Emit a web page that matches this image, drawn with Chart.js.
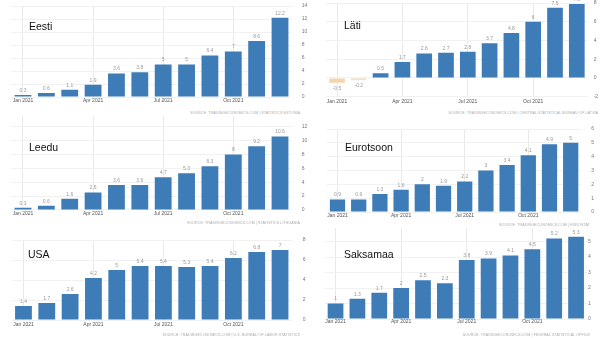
<!DOCTYPE html>
<html>
<head>
<meta charset="utf-8">
<script src="https://cdn.jsdelivr.net/npm/chart.js@4/dist/chart.umd.min.js"></script>
<style>
  body { margin: 0; background: #fff; width: 600px; height: 338px; overflow: hidden; position: relative; font-family: "Liberation Sans", Arial, sans-serif; }
  .panel { position: absolute; overflow: hidden; }
  .panel canvas { position: absolute; }
  .title { position: absolute; font-size: 10.5px; color: #111; line-height: 10px; white-space: nowrap; }
  .source { position: absolute; font-size: 3.6px; color: #aaa; white-space: nowrap; letter-spacing: 0.1px; }
</style>
</head>
<body>
<script>
// kuud ja inflatsioon 2021
const months = ['Jan 2021', 'Feb 2021', 'Mar 2021', 'Apr 2021', 'May 2021', 'Jun 2021',
                'Jul 2021', 'Aug 2021', 'Sep 2021', 'Oct 2021', 'Nov 2021', 'Dec 2021'];
const eestiValues = [0.3, 0.6, 1.1, 1.9, 3.6, 3.8, 5, 5, 6.4, 7, 8.6, 12.2];
const latiValues = [-0.5, -0.2, 0.5, 1.7, 2.6, 2.7, 2.8, 3.7, 4.8, 6, 7.5, 7.9];
const leeduValues = [0.3, 0.6, 1.6, 2.5, 3.6, 3.6, 4.7, 5.3, 6.3, 8, 9.2, 10.6];
const euroValues = [0.9, 0.9, 1.3, 1.6, 2, 1.9, 2.2, 3, 3.4, 4.1, 4.9, 5];
const usaValues = [1.4, 1.7, 2.6, 4.2, 5, 5.4, 5.4, 5.3, 5.4, 6.2, 6.8, 7];
const saksaValues = [1, 1.3, 1.7, 2, 2.5, 2.3, 3.8, 3.9, 4.1, 4.5, 5.2, 5.3];

const BLUE = '#3e7cb7';
const NEG = '#f3d6ad';

// numbrid tulpade kohal
const valueLabels = {
    id: 'valueLabels',
    afterDatasetsDraw(chart) {
        const ctx = chart.ctx;
        const meta = chart.getDatasetMeta(0);
        const data = chart.data.datasets[0].data;
        ctx.save();
        ctx.font = '5px "Liberation Sans", Arial, sans-serif';
        ctx.fillStyle = '#999';
        ctx.textAlign = 'center';
        meta.data.forEach(function (bar, i) {
            const v = data[i];
            if (v >= 0) {
                ctx.textBaseline = 'bottom';
                ctx.fillText(String(v), bar.x, bar.y - 2);
            } else {
                ctx.textBaseline = 'top';
                ctx.fillText(String(v), bar.x, bar.y + 3);
            }
        });
        ctx.restore();
    }
};

function makePanel(p) {
    const div = document.createElement('div');
    div.className = 'panel';
    div.style.left = p.box[0] + 'px';
    div.style.top = p.box[1] + 'px';
    div.style.width = p.box[2] + 'px';
    div.style.height = p.box[3] + 'px';
    document.body.appendChild(div);

    const plotTop = p.zeroY - p.max * p.ppu;
    const plotBottom = p.zeroY - p.min * p.ppu;
    const xh = 12;
    const canvasTop = plotTop - 6;
    const canvasH = Math.round(plotBottom + xh + 2 - canvasTop);
    const canvasW = p.box[2];
    const yw = p.box[0] + p.box[2] - p.plotX[1];

    const canvas = document.createElement('canvas');
    canvas.width = canvasW;
    canvas.height = canvasH;
    canvas.style.left = '0px';
    canvas.style.top = (canvasTop - p.box[1]) + 'px';
    canvas.style.width = canvasW + 'px';
    canvas.style.height = canvasH + 'px';
    div.appendChild(canvas);

    new Chart(canvas.getContext('2d'), {
        type: 'bar',
        data: {
            labels: months,
            datasets: [{
                data: p.values,
                backgroundColor: p.values.map(v => v < 0 ? NEG : BLUE),
                barPercentage: 0.72,
                categoryPercentage: 1
            }]
        },
        options: {
            responsive: false,
            animation: false,
            devicePixelRatio: 1,
            layout: {
                padding: {
                    left: p.plotX[0] - p.box[0],
                    right: 0,
                    top: plotTop - canvasTop,
                    bottom: canvasTop + canvasH - plotBottom - xh
                }
            },
            plugins: { legend: { display: false }, tooltip: { enabled: false } },
            scales: {
                x: {
                    grid: {
                        offset: false,
                        drawTicks: false,
                        color: ctx => ctx.index % 3 === 0 ? '#e9e9e9' : 'rgba(0,0,0,0)'
                    },
                    border: { display: false },
                    ticks: {
                        autoSkip: false,
                        maxRotation: 0,
                        padding: p.xPad,
                        color: '#555',
                        font: { size: 5, family: '"Liberation Sans", Arial, sans-serif' },
                        callback: (val, i) => i % 3 === 0 ? months[i] : ''
                    },
                    afterFit: s => { s.height = xh; }
                },
                y: {
                    position: 'right',
                    min: p.min,
                    max: p.max,
                    grid: { drawTicks: false, color: '#f1f1f1' },
                    border: { display: false },
                    ticks: {
                        stepSize: p.step,
                        padding: p.yPad,
                        color: '#777',
                        font: { size: 5, family: '"Liberation Sans", Arial, sans-serif' }
                    },
                    afterFit: s => { s.width = yw; }
                }
            }
        },
        plugins: [valueLabels]
    });

    const t = document.createElement('div');
    t.className = 'title';
    t.textContent = p.title;
    t.style.left = (p.titlePos[0] - p.box[0]) + 'px';
    t.style.top = (p.titlePos[1] - p.box[1] - 5) + 'px';
    div.appendChild(t);

    const s = document.createElement('div');
    s.className = 'source';
    s.textContent = p.source;
    s.style.right = (p.box[0] + p.box[2] - p.sourcePos[0]) + 'px';
    s.style.top = (p.sourcePos[1] - p.box[1] - 2) + 'px';
    div.appendChild(s);
}

makePanel({
    title: 'Eesti', values: eestiValues, box: [0, 0, 312, 116],
    plotX: [11.3, 291.7], zeroY: 97, ppu: 7, min: 0, max: 14, step: 2,
    xPad: 1, yPad: 10, titlePos: [29, 26], sourcePos: [300, 113],
    source: 'SOURCE: TRADINGECONOMICS.COM | STATISTICS ESTONIA'
});
makePanel({
    title: 'Läti', values: latiValues, box: [312, 0, 288, 116],
    plotX: [326.1, 587.7], zeroY: 77, ppu: 9.67, min: -2, max: 8, step: 2,
    xPad: 2, yPad: 6, titlePos: [344, 25], sourcePos: [598, 113],
    source: 'SOURCE: TRADINGECONOMICS.COM | CENTRAL STATISTICAL BUREAU OF LATVIA'
});
makePanel({
    title: 'Leedu', values: leeduValues, box: [0, 116, 312, 112],
    plotX: [11.3, 291.7], zeroY: 210, ppu: 7.42, min: 0, max: 14, step: 2,
    xPad: 1, yPad: 10, titlePos: [29, 147], sourcePos: [300, 223],
    source: 'SOURCE: TRADINGECONOMICS.COM | STATISTICS LITHUANIA'
});
makePanel({
    title: 'Eurotsoon', values: euroValues, box: [312, 116, 288, 112],
    plotX: [326.9, 581.3], zeroY: 211.5, ppu: 15, min: 0, max: 6, step: 1,
    xPad: 1, yPad: 10, titlePos: [345, 147], sourcePos: [590, 225],
    source: 'SOURCE: TRADINGECONOMICS.COM | EUROSTAT'
});
makePanel({
    title: 'USA', values: usaValues, box: [0, 228, 312, 110],
    plotX: [11.8, 291.7], zeroY: 320, ppu: 11, min: 0, max: 8, step: 2,
    xPad: 2, yPad: 11, titlePos: [28, 254], sourcePos: [300, 335],
    source: 'SOURCE: TRADINGECONOMICS.COM | U.S. BUREAU OF LABOR STATISTICS'
});
makePanel({
    title: 'Saksamaa', values: saksaValues, box: [312, 228, 288, 110],
    plotX: [324.6, 587], zeroY: 319, ppu: 15.5, min: 0, max: 6, step: 1,
    xPad: 0, yPad: 1, titlePos: [344, 254], sourcePos: [590, 335],
    source: 'SOURCE: TRADINGECONOMICS.COM | FEDERAL STATISTICAL OFFICE'
});
</script>
</body>
</html>
